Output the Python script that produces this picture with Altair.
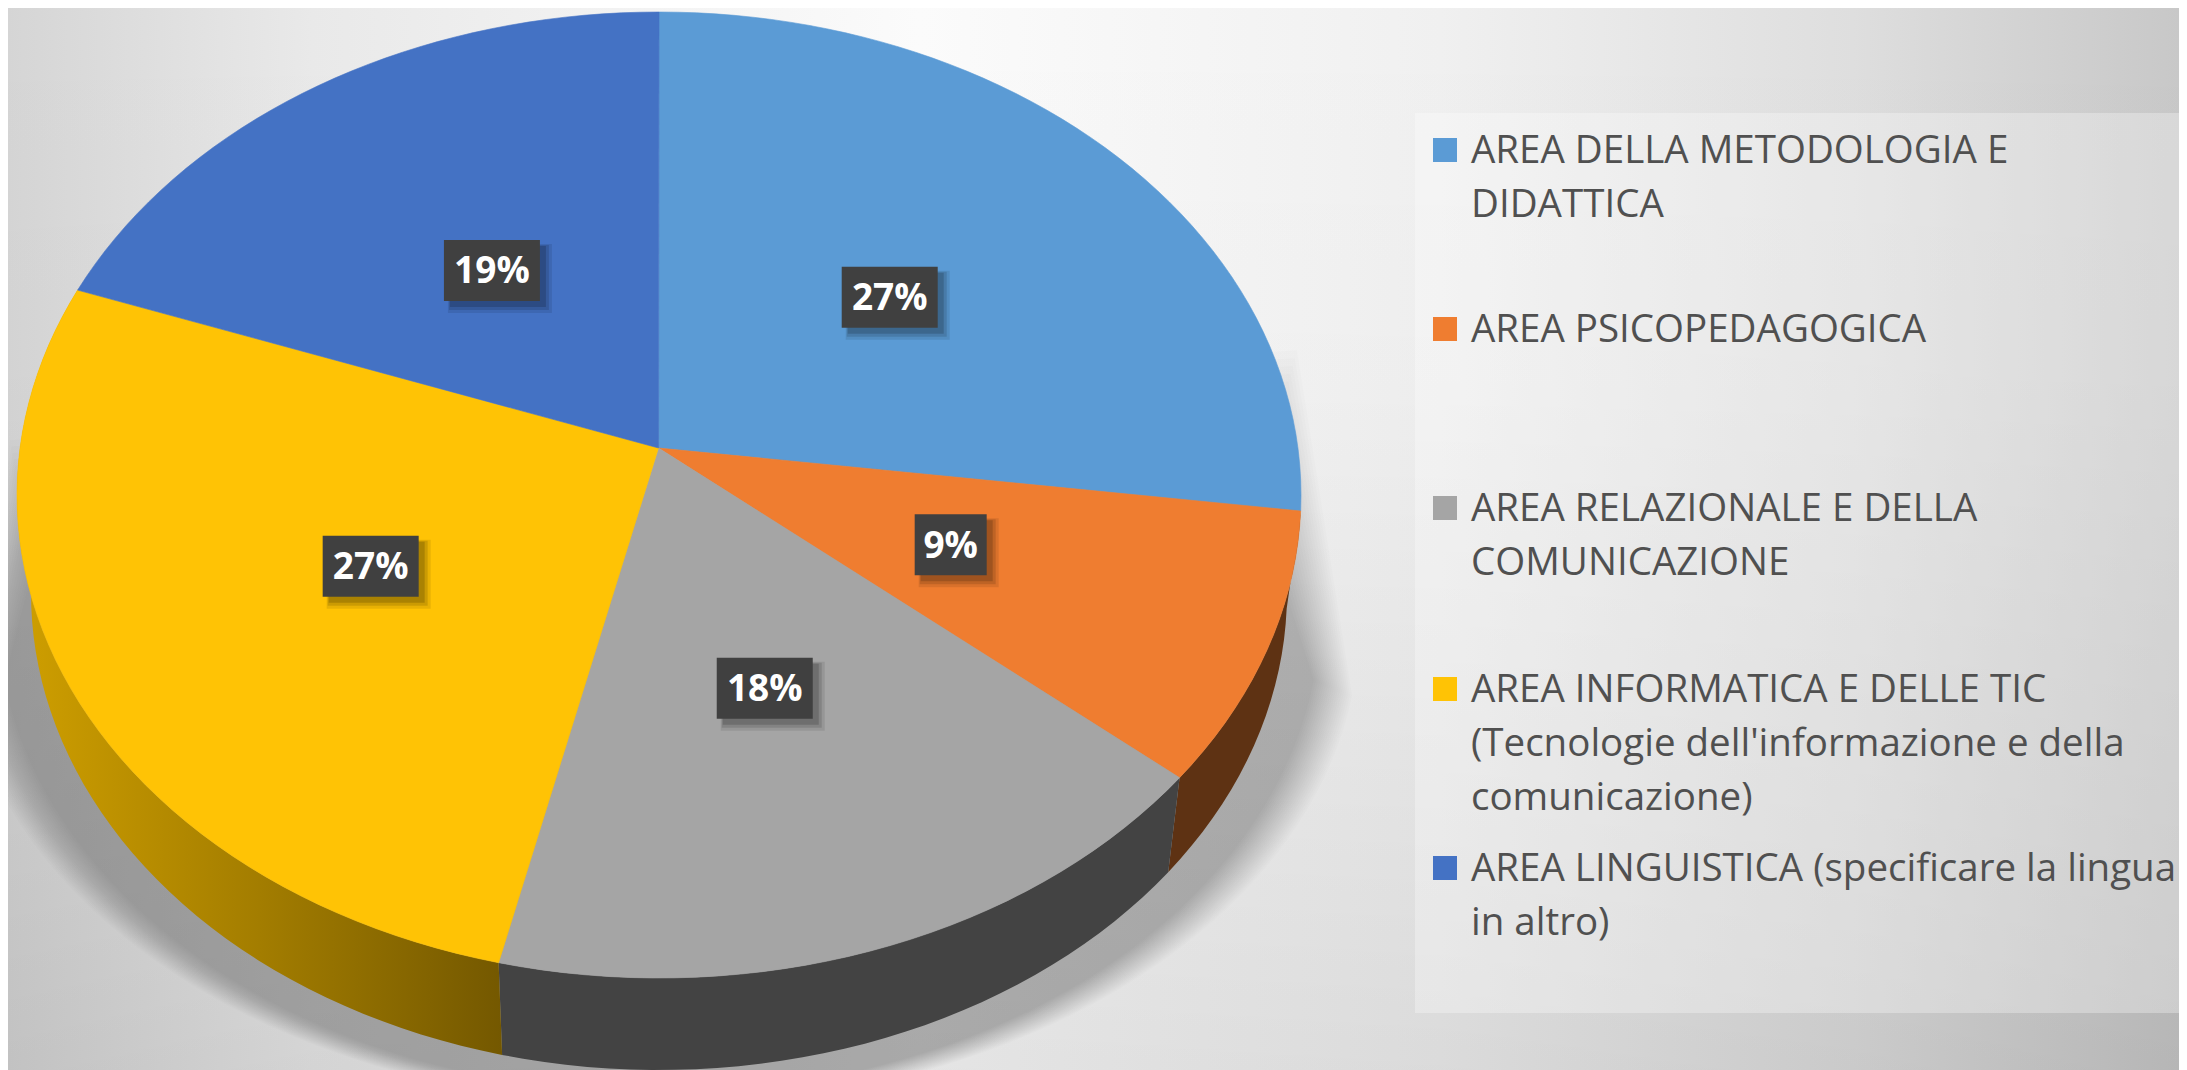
import math
import altair as alt

# ---- chart values ----
NAMES = ["AREA DELLA METODOLOGIA E DIDATTICA", "AREA PSICOPEDAGOGICA",
         "AREA RELAZIONALE E DELLA COMUNICAZIONE",
         "AREA INFORMATICA E DELLE TIC (Tecnologie dell'informazione e della comunicazione)",
         "AREA LINGUISTICA (specificare la lingua in altro)"]
VALUES = [26.85, 9.15, 17.7, 27.05, 19.25]
COLORS = ["#5B9BD5", "#EF7D30", "#A5A5A5", "#FFC305", "#4472C4"]
WALLS = ["#5E3213", "#434343"]
LEGEND_LINES = [["AREA DELLA METODOLOGIA E", "DIDATTICA"], ["AREA PSICOPEDAGOGICA"],
                ["AREA RELAZIONALE E DELLA", "COMUNICAZIONE"],
                ["AREA INFORMATICA E DELLE TIC", "(Tecnologie dell'informazione e della", "comunicazione)"],
                ["AREA LINGUISTICA (specificare la lingua", "in altro)"]]

# ---- layout (image pixels) ----
W, H, M = 2187, 1070, 8
RIGHT = W - M
APEX = (658.5, 448)
TOP = (659, 495, 642, 483)
LOW = (659, 593, 628, 477)
PERSP = 0.92
LABEL_REACH = [0.51, 0.48, 0.48, 0.49, 0.49]
LEG_BASE = [163, 342, 521, 702, 881]
LEG_STEP = 54
LEG_X = 1471


def t_of(pct):
    th = math.radians(pct * 3.6)
    return 2 * math.atan2(PERSP * math.sin(th / 2), math.cos(th / 2))


def pt(e, t):
    return [e[0] + e[2] * math.sin(t), e[1] - e[3] * math.cos(t)]


def arc(e, a, b, step=0.5):
    n = max(2, int(abs(b - a) / step) + 1)
    return [pt(e, t_of(a + (b - a) * i / (n - 1))) for i in range(n)]


def feat(ring, **props):
    ring = ring + [ring[0]]
    return {"type": "Feature", "properties": props,
            "geometry": {"type": "Polygon", "coordinates": [ring]}}


cum = [0]
for v in VALUES:
    cum.append(cum[-1] + v)

PROJ = dict(type="identity", scale=1, translate=[-M, -M])
xs = alt.Scale(domain=[M, RIGHT], nice=False, zero=False)
ys = alt.Scale(domain=[M, H], nice=False, zero=False, reverse=True)
color_scale = alt.Scale(domain=NAMES, range=COLORS)
one = alt.Data(values=[{"a": 1}])


def grad(stops, x2=1, y2=0):
    return alt.Gradient(gradient="linear", x1=0, y1=0, x2=x2, y2=y2,
                        stops=[alt.GradientStop(color=c, offset=o) for o, c in stops])


full = dict(x=alt.value(0), x2=alt.value(RIGHT - M), y=alt.value(0), y2=alt.value(H - M))
bg1 = alt.Chart(one).mark_rect(fill=grad([(0, "#d5d5d5"), (0.14, "#e9e9e9"), (0.42, "#fbfbfb"),
                                          (0.66, "#f0f0f0"), (0.85, "#dedede"), (1, "#c8c8c8")])).encode(**full)
bg2 = alt.Chart(one).mark_rect(fill=grad([(0, "rgba(0,0,0,0)"), (0.35, "rgba(0,0,0,0.01)"),
                                          (1, "rgba(0,0,0,0.09)")], x2=0, y2=1)).encode(**full)

# soft cast shadow under the disc
shadow_layers = []
RINGS = 20
for i in range(RINGS):
    f = i / (RINGS - 1)
    g = 0.45 + 0.55 * f
    e = (659, 600 + 29 * g, 630 + 70 * g, 482 - 4 * g)
    low_arc = [[e[0] + e[2] * math.sin(math.radians(a)), e[1] - e[3] * math.cos(math.radians(a))]
               for a in range(98, 264, 2)]
    ring = [[1297 - 40 * (1 - f), 350 + 150 * (1 - f)]] + low_arc + [[10 + 25 * (1 - f), 440 + 120 * (1 - f)]]
    shadow_layers.append(alt.Chart(alt.Data(values=[feat(ring, r=i)])).mark_geoshape(
        fill="#000000", fillOpacity=0.012, strokeWidth=0).project(**PROJ))

# side walls
wall_layers = []
for idx, fill in [(1, WALLS[0]), (2, WALLS[1]),
                  (3, grad([(0, "#cf9f00"), (0.5, "#a37d00"), (1, "#745800")]))]:
    ring = arc(TOP, cum[idx], cum[idx + 1]) + arc(LOW, cum[idx + 1], cum[idx])
    wall_layers.append(alt.Chart(alt.Data(values=[feat(ring, s=idx)])).mark_geoshape(
        fill=fill, strokeWidth=0).project(**PROJ))

# top of the pie
slices = [feat([list(APEX)] + arc(TOP, cum[i], cum[i + 1]), name=NAMES[i]) for i in range(len(VALUES))]
pie = alt.Chart(alt.Data(values=slices)).mark_geoshape(strokeWidth=0.6).encode(
    color=alt.Color("properties.name:N", scale=color_scale, legend=None),
    stroke=alt.Stroke("properties.name:N", scale=color_scale, legend=None),
).project(**PROJ)

# percentage labels
rows = []
for i, v in enumerate(VALUES):
    rim = pt(TOP, t_of((cum[i] + cum[i + 1]) / 2))
    cx = APEX[0] + LABEL_REACH[i] * (rim[0] - APEX[0])
    cy = APEX[1] + LABEL_REACH[i] * (rim[1] - APEX[1])
    label = f"{round(v)}%"
    hw = 12 * len(label) + 12
    rows.append({"label": label, "cx": cx, "cy": cy, "x0": cx - hw, "x1": cx + hw,
                 "y0": cy - 30.5, "y1": cy + 30.5, "ty": cy + 13})
shadow_rects = []
for off, grow, op in [(8, 4, 0.09), (7, 2, 0.12), (6, 0, 0.16)]:
    srows = [{**r, "x0": r["x0"] + off - grow, "x1": r["x1"] + off + grow,
              "y0": r["y0"] + off - grow, "y1": r["y1"] + off + grow} for r in rows]
    shadow_rects.append(alt.Chart(alt.Data(values=srows)).mark_rect(color="#000000", opacity=op).encode(
        x=alt.X("x0:Q", scale=xs, axis=None), x2="x1:Q",
        y=alt.Y("y0:Q", scale=ys, axis=None), y2="y1:Q"))
box = alt.Chart(alt.Data(values=rows)).mark_rect(color="#404040").encode(
    x=alt.X("x0:Q", scale=xs, axis=None), x2="x1:Q",
    y=alt.Y("y0:Q", scale=ys, axis=None), y2="y1:Q")
label_text = alt.Chart(alt.Data(values=rows)).mark_text(
    font="Open Sans", fontWeight="bold", fontSize=37, color="#ffffff", baseline="alphabetic", align="center"
).encode(x=alt.X("cx:Q", scale=xs, axis=None), y=alt.Y("ty:Q", scale=ys, axis=None), text="label:N")

# legend
panel = alt.Chart(alt.Data(values=[{"x0": 1415, "x1": RIGHT, "y0": 113, "y1": 1013}])).mark_rect(
    color="#ffffff", opacity=0.3).encode(
    x=alt.X("x0:Q", scale=xs, axis=None), x2="x1:Q",
    y=alt.Y("y0:Q", scale=ys, axis=None), y2="y1:Q")
sq_rows = [{"name": n, "x0": 1433, "x1": 1457, "y0": b - 25, "y1": b - 1} for n, b in zip(NAMES, LEG_BASE)]
squares = alt.Chart(alt.Data(values=sq_rows)).mark_rect().encode(
    x=alt.X("x0:Q", scale=xs, axis=None), x2="x1:Q",
    y=alt.Y("y0:Q", scale=ys, axis=None), y2="y1:Q",
    color=alt.Color("name:N", scale=color_scale, legend=None))
line_rows = [{"t": t, "x": LEG_X, "y": b + j * LEG_STEP}
             for lines, b in zip(LEGEND_LINES, LEG_BASE) for j, t in enumerate(lines)]
legend_text = alt.Chart(alt.Data(values=line_rows)).mark_text(
    font="Open Sans", fontSize=38.5, color="#505050", baseline="alphabetic", align="left"
).encode(x=alt.X("x:Q", scale=xs, axis=None), y=alt.Y("y:Q", scale=ys, axis=None), text="t:N")

chart = alt.layer(bg1, bg2, *shadow_layers, *wall_layers, pie, *shadow_rects, box, label_text,
                  panel, squares, legend_text).properties(
    width=RIGHT - M, height=H - M, padding=0, autosize=alt.AutoSizeParams(type="none")
).configure_view(stroke=None)

chart.save("out.html", embed_options={"renderer": "svg", "actions": False})
